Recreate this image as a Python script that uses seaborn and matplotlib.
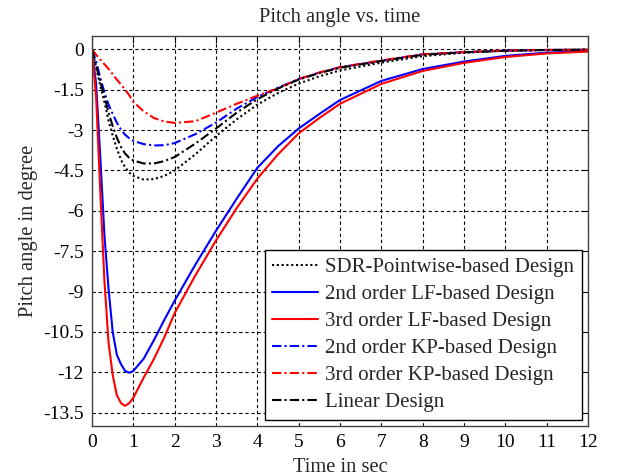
import numpy as np
import pandas as pd
import seaborn as sns
import matplotlib.pyplot as plt

# time samples (s)
t = [0, 0.1, 0.2, 0.3, 0.4, 0.5, 0.6, 0.7, 0.8, 0.9, 1.0, 1.25, 1.5, 1.75, 2.0,
     2.5, 3.0, 3.5, 4.0, 4.5, 5.0, 5.5, 6.0, 7.0, 8.0, 9.0, 10.0, 11.0, 12.0]

# pitch angle (deg)
sdr_pointwise = [0, -0.68, -1.35, -1.95, -2.65, -3.2, -3.68, -4.1, -4.38, -4.58, -4.7,
                 -4.84, -4.82, -4.7, -4.5, -3.9, -3.22, -2.6, -2.05, -1.62, -1.27,
                 -1.0, -0.78, -0.49, -0.25, -0.12, -0.05, -0.02, -0.01]
lf_2nd = [0, -1.3, -4.0, -6.9, -8.9, -10.5, -11.35, -11.7, -11.95, -12.02, -11.95,
          -11.5, -10.8, -10.05, -9.34, -8.0, -6.74, -5.55, -4.4, -3.6, -2.94,
          -2.4, -1.88, -1.17, -0.73, -0.45, -0.24, -0.12, -0.06]
lf_3rd = [0, -1.8, -5.3, -8.6, -10.9, -12.1, -12.85, -13.15, -13.25, -13.15, -12.95,
          -12.2, -11.5, -10.7, -9.8, -8.4, -7.1, -5.9, -4.8, -3.9, -3.12,
          -2.55, -2.02, -1.28, -0.8, -0.5, -0.28, -0.15, -0.08]
kp_2nd = [0, -0.45, -1.05, -1.6, -2.05, -2.4, -2.72, -2.98, -3.17, -3.3, -3.4,
          -3.52, -3.57, -3.56, -3.48, -3.15, -2.72, -2.2, -1.77, -1.42, -1.1,
          -0.86, -0.66, -0.42, -0.18, -0.1, -0.04, -0.02, -0.01]
kp_3rd = [0, -0.2, -0.38, -0.55, -0.72, -0.92, -1.12, -1.3, -1.5, -1.7, -1.95,
          -2.3, -2.55, -2.68, -2.73, -2.67, -2.35, -2.02, -1.72, -1.45, -1.1,
          -0.86, -0.66, -0.41, -0.18, -0.1, -0.04, -0.02, -0.01]
linear = [0, -0.6, -1.2, -1.75, -2.35, -2.85, -3.28, -3.62, -3.87, -4.03, -4.13,
          -4.24, -4.24, -4.15, -4.0, -3.5, -2.94, -2.35, -1.85, -1.45, -1.12,
          -0.88, -0.68, -0.43, -0.2, -0.11, -0.05, -0.02, -0.01]

labels = ['SDR-Pointwise-based Design', '2nd order LF-based Design',
          '3rd order LF-based Design', '2nd order KP-based Design',
          '3rd order KP-based Design', 'Linear Design']
series = [sdr_pointwise, lf_2nd, lf_3rd, kp_2nd, kp_3rd, linear]

xticks = list(range(0, 13))
yticks = [0, -1.5, -3, -4.5, -6, -7.5, -9, -10.5, -12, -13.5]
ytick_labels = ['0', '-1.5', '-3', '-4.5', '-6', '-7.5', '-9', '-10.5', '-12', '-13.5']

df = pd.DataFrame({
    'time': np.tile(t, len(series)),
    'pitch': np.concatenate(series),
    'design': np.repeat(labels, len(t)),
})

sns.set_style('white')
plt.rcParams['font.family'] = ['Liberation Serif', 'DejaVu Serif']
plt.rcParams['axes.unicode_minus'] = False

colors = ['black', 'blue', 'red', 'blue', 'red', 'black']
dashes = [(1, 1.3), '', '', (4.5, 1.5, 1, 1.5), (4.5, 1.5, 1, 1.5), (4.5, 1.5, 1, 1.5)]

fig = plt.figure(figsize=(6.18, 4.76), dpi=100)
ax = fig.add_axes([0.1489, 0.105, 0.8026, 0.8194])

sns.lineplot(data=df, x='time', y='pitch', hue='design', style='design',
             hue_order=labels, style_order=labels,
             palette=dict(zip(labels, colors)), dashes=dict(zip(labels, dashes)),
             linewidth=1.5, sort=False, estimator=None, ax=ax)

ax.set_xlim(0, 12)
ax.set_ylim(-14, 0.5)
ax.set_xticks(xticks)
ax.set_yticks(yticks)
ax.set_yticklabels(ytick_labels)
ax.tick_params(direction='in', length=5, width=0.8, top=True, right=True,
               labelsize=14, colors='black', pad=6)
for s in ax.spines.values():
    s.set_color('#444444')
    s.set_linewidth(1.0)
ax.grid(True, color='black', linestyle=(0, (3, 2.5)), linewidth=0.8)

ax.set_title('Pitch angle vs. time', fontsize=14.8, pad=10)
ax.set_xlabel('Time in sec', fontsize=14.8, labelpad=5)
ax.set_ylabel('Pitch angle in degree', fontsize=14.8, labelpad=4)

leg = ax.legend(loc='lower right', fontsize=15, frameon=True, fancybox=False,
                framealpha=1, edgecolor='black', handlelength=2.2,
                handletextpad=0.35, labelspacing=0.36, borderpad=0.35,
                borderaxespad=0.3)
leg.get_frame().set_linewidth(1.0)

fig.savefig('out.png', dpi=100)
